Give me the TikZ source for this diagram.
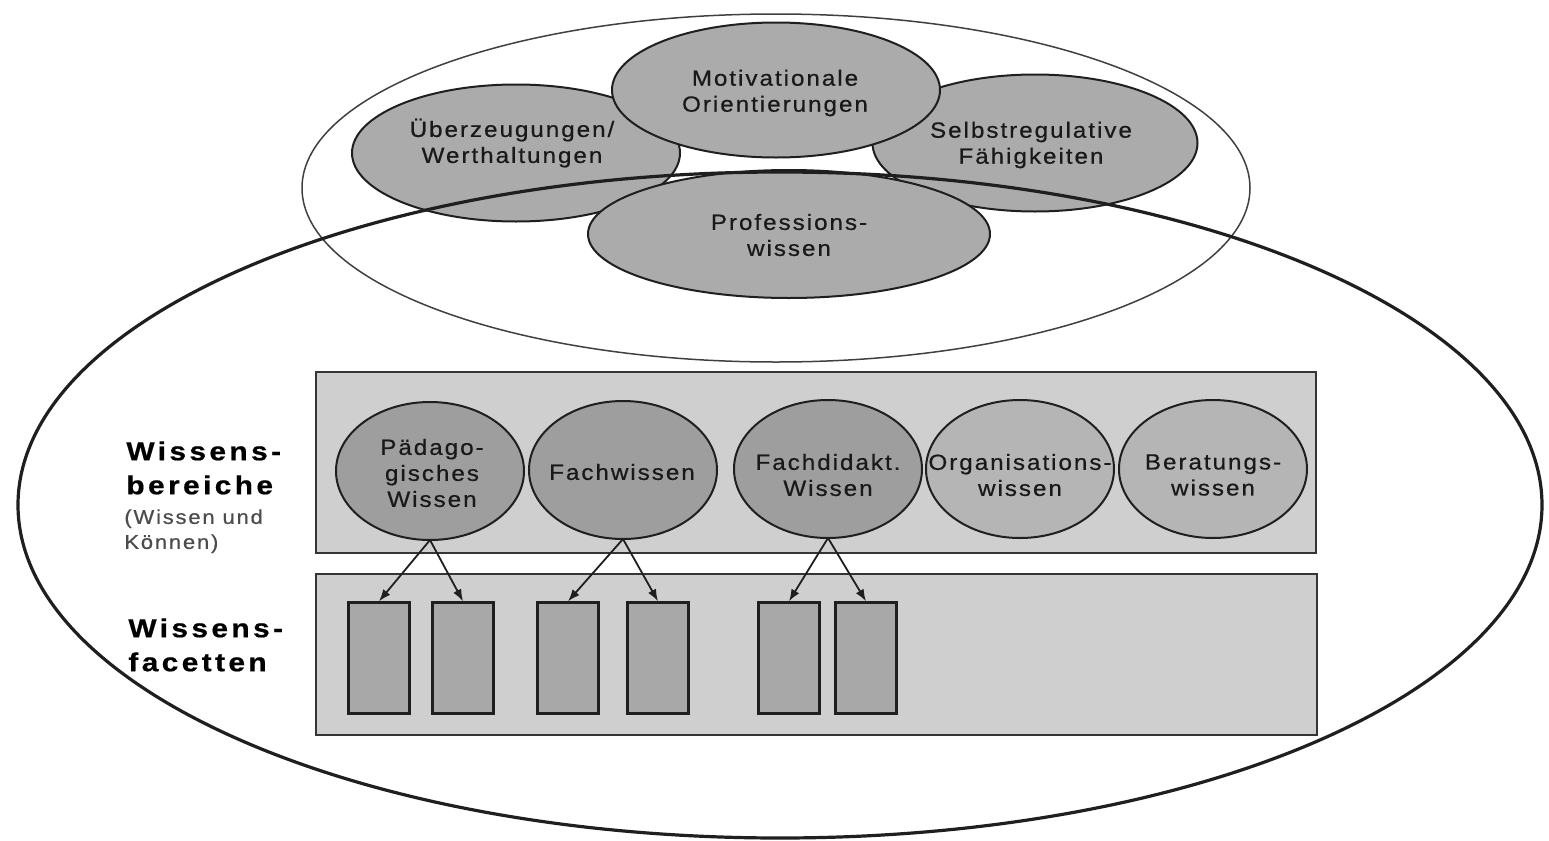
\documentclass[tikz,border=0pt]{standalone}
\usepackage{fontspec}
\setmainfont{Liberation Sans}[FakeStretch=1.1,LetterSpace=9,FakeBold=0.6]
\newfontfamily\lblfont{Liberation Sans}[FakeStretch=1.15,LetterSpace=13,FakeBold=0.6]
\usetikzlibrary{shapes.geometric,arrows.meta}

\definecolor{ovalgrau}{gray}{0.67}
\definecolor{dunkel}{gray}{0.62}
\definecolor{hell}{gray}{0.71}
\definecolor{feld}{gray}{0.81}
\definecolor{facgrau}{gray}{0.66}
\definecolor{linie}{gray}{0.12}

\begin{document}
\begin{tikzpicture}[x=0.5pt,y=-0.5pt,
  oval/.style={ellipse,draw=linie,line width=1pt,fill=ovalgrau,inner sep=0,outer sep=0},
  kreis/.style={ellipse,draw=linie,line width=1pt,inner sep=0,outer sep=0,
    minimum width=94pt,minimum height=69pt},
  facette/.style={rectangle,draw=linie,line width=1.2pt,fill=facgrau,inner sep=0,
    minimum width=30.5pt,minimum height=55.5pt},
  panel/.style={draw=linie!90,line width=1pt,fill=feld},
  pfeil/.style={-{Latex[length=6pt,width=4.5pt]},line width=0.9pt,linie},
  txt/.style={align=center,inner sep=0,text=black!90,font=\fontsize{11}{13}\selectfont},
  lbl/.style={align=left,inner sep=0,anchor=north west,
    font=\lblfont\bfseries\fontsize{13}{17}\selectfont},
  klein/.style={align=left,inner sep=0,anchor=north west,text=black!70,
    font=\fontsize{10}{12.5}\selectfont}]
\useasboundingbox (0,0) rectangle (1549,841);

% upper part
\draw[line width=0.75pt,black!75] (776,188) ellipse [x radius=474, y radius=174];
\node[oval,minimum width=164pt,minimum height=68.5pt] (ueb) at (516,153) {};
\node[oval,minimum width=162.5pt,minimum height=68.5pt] (sel) at (1035,143) {};
\node[oval,minimum width=164pt,minimum height=67.5pt] (mot) at (776,90) {};
\node[oval,minimum width=201pt,minimum height=64pt] (pro) at (789,234) {};
\draw[line width=1.6pt,linie] (780,505) ellipse [x radius=762, y radius=333];

\node[txt] (tmot) at (775,93) {Motivationale\\Orientierungen};
\node[txt] (tueb) at (512,143) {Überzeugungen/\\Werthaltungen};
\node[txt] (tsel) at (1031,145) {Selbstregulative\\Fähigkeiten};
\node[txt] (tpro) at (789,235) {Professions-\\wissen};

% Wissensbereiche
\draw[panel] (316,372) rectangle (1316,553);
\node[kreis,fill=dunkel] (paed) at (430,471) {};
\node[kreis,fill=dunkel] (fach) at (623,470) {};
\node[kreis,fill=dunkel] (fdid) at (828,469) {};
\node[kreis,fill=hell] (org) at (1020,469) {};
\node[kreis,fill=hell] (ber) at (1213,469) {};

\node[txt] (tpaed) at (432,473) {Pädago-\\gisches\\Wissen};
\node[txt] (tfach) at (622,472) {Fachwissen};
\node[txt] (tfdid) at (828,475) {Fachdidakt.\\Wissen};
\node[txt] (torg) at (1020,475) {Organisations-\\wissen};
\node[txt] (tber) at (1213,475) {Beratungs-\\wissen};

% Wissensfacetten
\draw[panel] (316,574) rectangle (1317,735);
\node[facette] (f1) at (379,658) {};
\node[facette] (f2) at (463,658) {};
\node[facette] (f3) at (568,658) {};
\node[facette] (f4) at (658,658) {};
\node[facette] (f5) at (789,658) {};
\node[facette] (f6) at (866,658) {};

\draw[pfeil] (paed.south) -- (f1.north);
\draw[pfeil] (paed.south) -- (f2.north);
\draw[pfeil] (fach.south) -- (f3.north);
\draw[pfeil] (fach.south) -- (f4.north);
\draw[pfeil] (fdid.south) -- (f5.north);
\draw[pfeil] (fdid.south) -- (f6.north);

% left labels
\node[lbl] (lwb) at (126,441) {Wissens-\\bereiche};
\node[klein] (lwk) at (124,509) {(Wissen und\\Können)};
\node[lbl] (lwf) at (128,618) {Wissens-\\facetten};
\end{tikzpicture}
\end{document}
